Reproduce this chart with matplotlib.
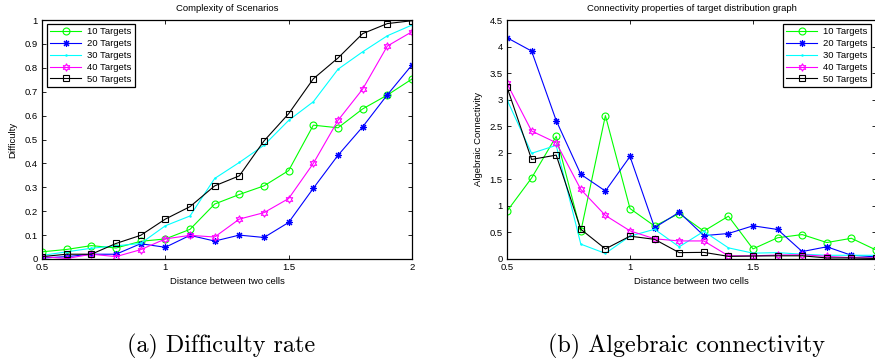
import matplotlib
matplotlib.use("Agg")
import matplotlib.pyplot as plt
import numpy as np

plt.rcParams['font.family'] = ['Liberation Sans', 'DejaVu Sans']

# data
dist = [0.5, 0.6, 0.7, 0.8, 0.9, 1.0, 1.1, 1.2, 1.3, 1.4, 1.5, 1.6, 1.7, 1.8, 1.9, 2.0]
labels = ['10 Targets', '20 Targets', '30 Targets', '40 Targets', '50 Targets']

diff_10 = [0.03, 0.04, 0.056, 0.046, 0.074, 0.084, 0.124, 0.23, 0.27, 0.306, 0.37, 0.56, 0.549, 0.628, 0.686, 0.753]
diff_20 = [0.004, 0.01, 0.02, 0.02, 0.064, 0.049, 0.099, 0.075, 0.1, 0.09, 0.153, 0.296, 0.434, 0.553, 0.687, 0.812]
diff_30 = [0.015, 0.03, 0.045, 0.055, 0.065, 0.139, 0.18, 0.337, 0.404, 0.476, 0.58, 0.658, 0.794, 0.867, 0.934, 0.979]
diff_40 = [0.01, 0.002, 0.02, 0.01, 0.039, 0.084, 0.099, 0.092, 0.167, 0.194, 0.253, 0.40, 0.58, 0.711, 0.891, 0.951]
diff_50 = [0.01, 0.02, 0.02, 0.065, 0.099, 0.167, 0.219, 0.306, 0.348, 0.494, 0.608, 0.754, 0.841, 0.943, 0.985, 0.997]

conn_10 = [0.9, 1.525, 2.31, 0.52, 2.7, 0.95, 0.62, 0.856, 0.525, 0.806, 0.19, 0.40, 0.46, 0.31, 0.39, 0.17]
conn_20 = [4.167, 3.915, 2.607, 1.594, 1.28, 1.93, 0.59, 0.88, 0.44, 0.48, 0.625, 0.556, 0.14, 0.23, 0.07, 0.04]
conn_30 = [3.0, 1.99, 2.14, 0.28, 0.105, 0.43, 0.56, 0.23, 0.52, 0.21, 0.11, 0.12, 0.09, 0.07, 0.07, 0.07]
conn_40 = [3.305, 2.41, 2.19, 1.31, 0.82, 0.53, 0.38, 0.34, 0.34, 0.06, 0.06, 0.075, 0.08, 0.05, 0.025, 0.02]
conn_50 = [3.236, 1.875, 1.956, 0.56, 0.19, 0.43, 0.37, 0.12, 0.125, 0.05, 0.056, 0.06, 0.06, 0.02, 0.02, 0.01]

xticks = [0.5, 1, 1.5, 2]
xticklabels = ['0.5', '1', '1.5', '2']
yticks_a = [0, 0.1, 0.2, 0.3, 0.4, 0.5, 0.6, 0.7, 0.8, 0.9, 1]
yticklabels_a = ['0', '0.1', '0.2', '0.3', '0.4', '0.5', '0.6', '0.7', '0.8', '0.9', '1']
yticks_b = [0, 0.5, 1, 1.5, 2, 2.5, 3, 3.5, 4, 4.5]
yticklabels_b = ['0', '0.5', '1', '1.5', '2', '2.5', '3', '3.5', '4', '4.5']

colors = ['#00ff00', '#0000ff', '#00ffff', '#ff00ff', '#000000']
markers = ['o', (8, 2, 0), '.', (6, 1, 0), 's']
msizes = [5, 5, 2, 5.5, 4.5]

fs = 6.8

fig = plt.figure(figsize=(8.75, 3.63), dpi=100)
ax1 = fig.add_axes([42 / 875, 104 / 363, 370 / 875, 239 / 363])
ax2 = fig.add_axes([507 / 875, 104 / 363, 369 / 875, 239 / 363])


def draw(ax, series, yticks, yticklabels, ymax, title, ylabel, ylab_x, legend_anchor, legend_loc):
    for s, c, m, ms, lab in zip(series, colors, markers, msizes, labels):
        ax.plot(dist, s, color=c, marker=m, markersize=ms, markerfacecolor='none',
                markeredgecolor=c, markeredgewidth=0.8, linewidth=0.8, label=lab)
    ax.set_xlim(0.5, 2)
    ax.set_ylim(0, ymax)
    ax.set_xticks(xticks)
    ax.set_xticklabels(xticklabels)
    ax.set_yticks(yticks)
    ax.set_yticklabels(yticklabels)
    ax.tick_params(direction='in', length=3, width=0.6, top=True, right=True,
                   labelsize=fs, pad=3)
    for sp in ax.spines.values():
        sp.set_linewidth(0.9)
    ax.set_title(title, fontsize=fs, pad=6.5)
    ax.set_xlabel('Distance between two cells', fontsize=fs)
    ax.set_ylabel(ylabel, fontsize=fs)
    ax.xaxis.set_label_coords(0.5, -0.075)
    ax.yaxis.set_label_coords(ylab_x, 0.5)
    leg = ax.legend(loc=legend_loc, bbox_to_anchor=legend_anchor, fontsize=fs,
                    borderaxespad=0, fancybox=False, edgecolor='black',
                    framealpha=1, handlelength=3.3, handletextpad=0.6,
                    labelspacing=0.3, borderpad=0.35)
    leg.get_frame().set_linewidth(0.9)


draw(ax1, [diff_10, diff_20, diff_30, diff_40, diff_50], yticks_a, yticklabels_a, 1,
     'Complexity of Scenarios', 'Difficulty', -0.068, (0.0135, 0.983), 'upper left')
draw(ax2, [conn_10, conn_20, conn_30, conn_40, conn_50], yticks_b, yticklabels_b, 4.5,
     'Connectivity properties of target distribution graph', 'Algebraic Connectivity',
     -0.065, (0.986, 0.983), 'upper right')

fig.text(221 / 875, 1 - 346 / 363, '(a) Difficulty rate', family='cmr10',
         fontsize=17.4, ha='center', va='center')
fig.text(686 / 875, 1 - 346 / 363, '(b) Algebraic connectivity', family='cmr10',
         fontsize=17.4, ha='center', va='center')

fig.savefig('out.png', dpi=100)
